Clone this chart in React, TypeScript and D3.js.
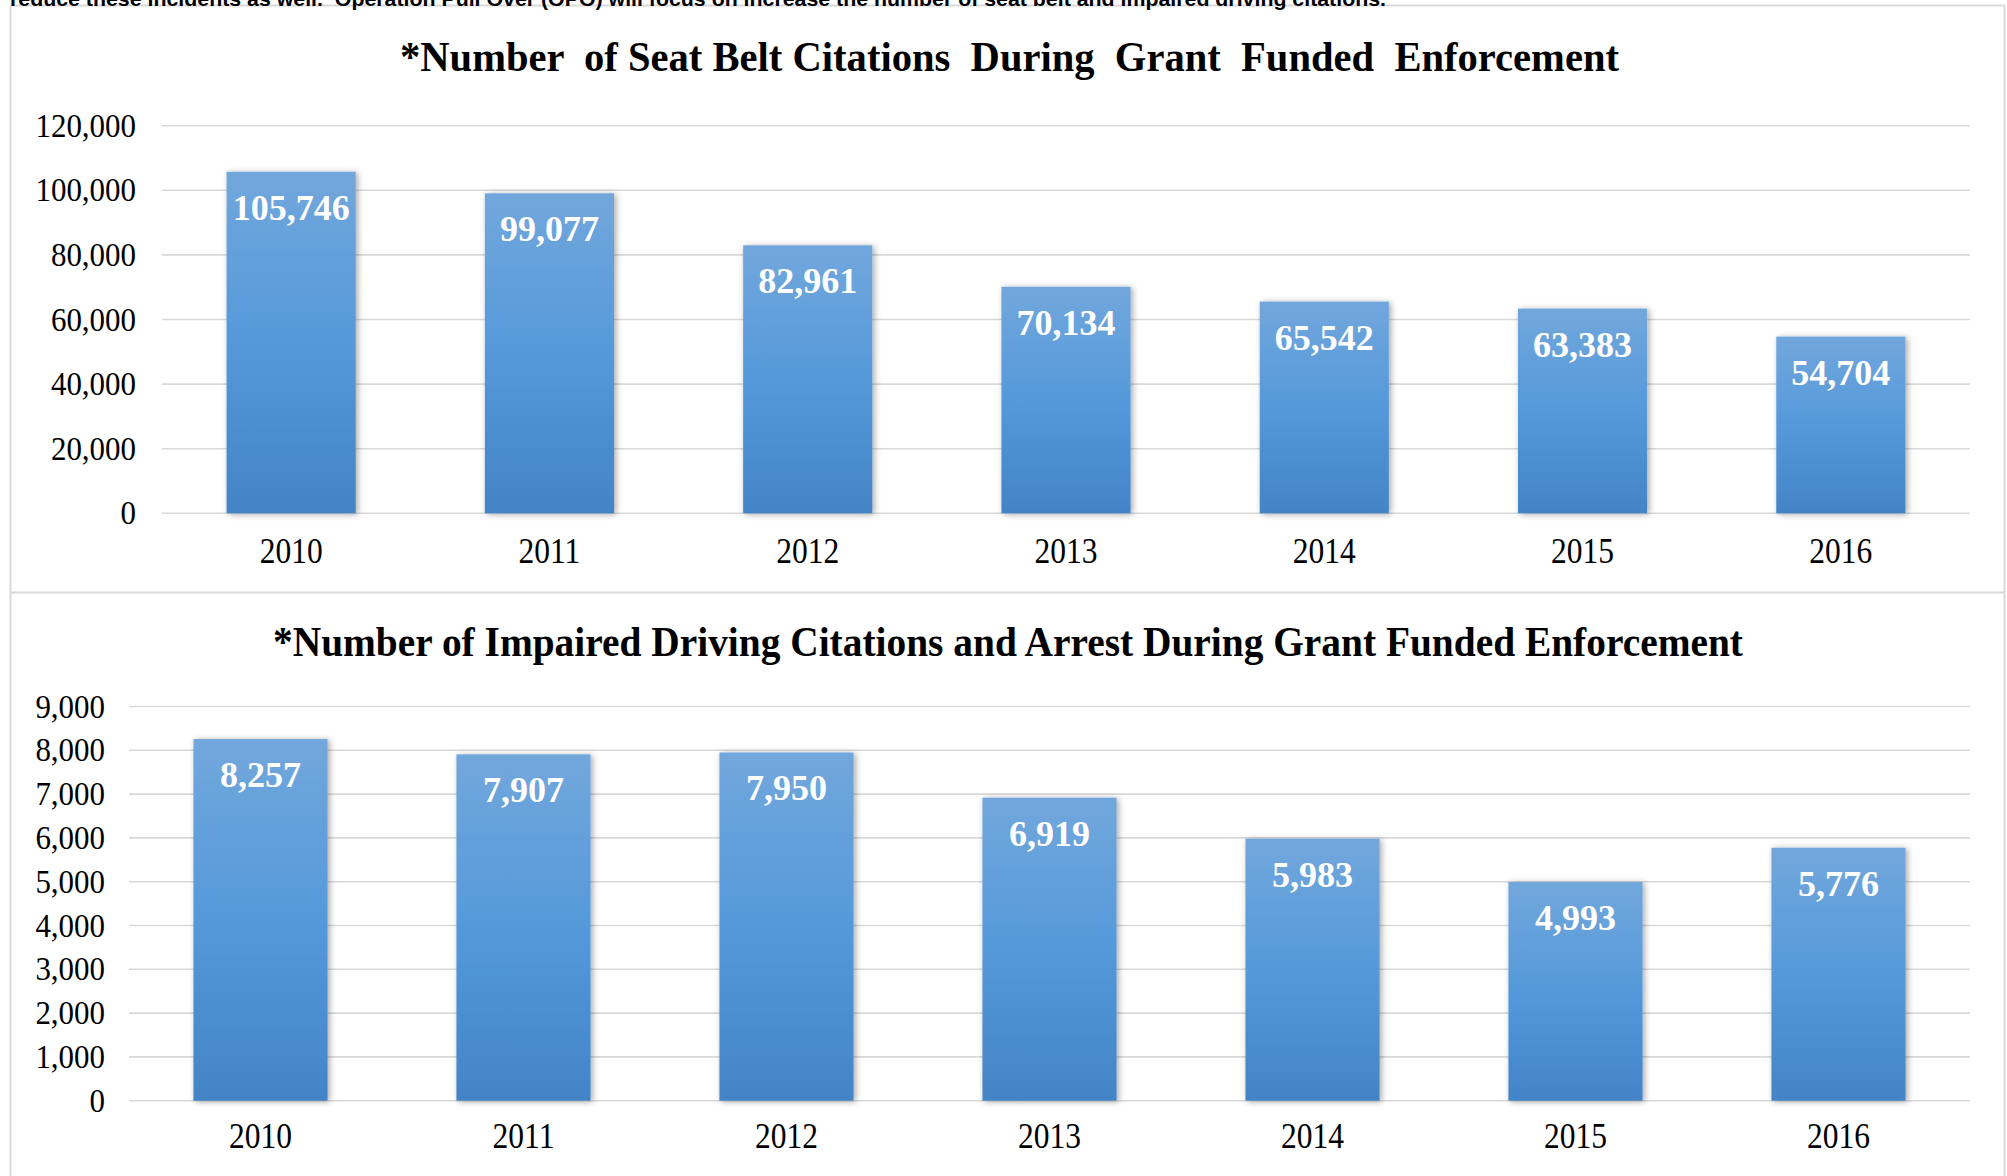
import React from "react";
import * as d3 from "d3";

const years = ["2010", "2011", "2012", "2013", "2014", "2015", "2016"];
const seatBelt = [105746, 99077, 82961, 70134, 65542, 63383, 54704];
const impaired = [8257, 7907, 7950, 6919, 5983, 4993, 5776];
const seatTicks = [0, 20000, 40000, 60000, 80000, 100000, 120000];
const impairedTicks = [0, 1000, 2000, 3000, 4000, 5000, 6000, 7000, 8000, 9000];
const title1 = "*Number  of Seat Belt Citations  During  Grant  Funded  Enforcement";
const title2 = "*Number of Impaired Driving Citations and Arrest During Grant Funded Enforcement";
const topLine =
  "reduce these incidents as well.  Operation Pull Over (OPO) will focus on increase the number of seat belt and impaired driving citations.";

const W = 2007;
const H = 1176;
const SERIF = "'Liberation Serif', 'Times New Roman', serif";
const fmt = d3.format(",");

function T({ x, y, sx = 0.91, anchor = "middle", size, weight = "normal", fill = "#000", children }: any) {
  return (
    <text
      transform={`translate(${x},${y}) scale(${sx},1)`}
      textAnchor={anchor}
      fontFamily={SERIF}
      fontSize={size}
      fontWeight={weight}
      fill={fill}
    >
      {children}
    </text>
  );
}

function Panel({ values, ticks, yMax, y0, y1, xL, xR, pInner, pOuter, title, titleY, titleX0, titleX1, yearY, tickRight }: any) {
  const x = d3.scaleBand<string>().domain(years).range([xL, xR]).paddingInner(pInner).paddingOuter(pOuter);
  const y = d3.scaleLinear().domain([0, yMax]).range([y0, y1]);
  return (
    <g>
      <text
        x={titleX0}
        y={titleY}
        textLength={titleX1 - titleX0}
        lengthAdjust="spacingAndGlyphs"
        fontFamily={SERIF}
        fontSize={42}
        fontWeight="bold"
        fill="#000"
        style={{ whiteSpace: "pre" }}
      >
        {title}
      </text>
      {ticks.map((t: number) => (
        <g key={t}>
          <line x1={xL} x2={xR} y1={y(t)} y2={y(t)} stroke="#d9d9d9" strokeWidth={1.6} />
          <T x={tickRight} y={y(t) + 11} anchor="end" size={34}>
            {fmt(t)}
          </T>
        </g>
      ))}
      {values.map((v: number, i: number) => {
        const bx = x(years[i])!;
        const bw = x.bandwidth();
        return (
          <g key={years[i]}>
            <rect x={bx} y={y(v)} width={bw} height={y0 - y(v)} fill="url(#barGrad)" filter="url(#shadow)" />
            <T x={bx + bw / 2} y={y(v) + 48} size={36} weight="bold" fill="#fff" sx={1.0}>
              {fmt(v)}
            </T>
          </g>
        );
      })}
      {years.map((yr) => (
        <T key={yr} x={x(yr)! + x.bandwidth() / 2} y={yearY} size={35} sx={0.9}>
          {yr}
        </T>
      ))}
    </g>
  );
}

export default function App() {
  return (
    <svg
      width={W}
      height={H}
      style={{ position: "absolute", left: 0, top: 0, display: "block", background: "#fff" }}
    >
      <defs>
        <linearGradient id="barGrad" x1="0" y1="0" x2="0" y2="1">
          <stop offset="0%" stopColor="#72a7dc" />
          <stop offset="50%" stopColor="#5599da" />
          <stop offset="100%" stopColor="#4384c6" />
        </linearGradient>
        <filter id="shadow" x="-20%" y="-10%" width="140%" height="120%">
          <feDropShadow dx="2" dy="1" stdDeviation="3" floodColor="#000" floodOpacity="0.35" />
        </filter>
      </defs>
      <rect x={0} y={0} width={W} height={H} fill="#fff" />
      <line x1={10} x2={2005} y1={5.5} y2={5.5} stroke="#d9d9d9" strokeWidth={2} />
      <line x1={10.5} x2={10.5} y1={5} y2={H} stroke="#d9d9d9" strokeWidth={2} />
      <line x1={2004.5} x2={2004.5} y1={5} y2={H} stroke="#d9d9d9" strokeWidth={2} />
      <line x1={10} x2={2005} y1={592.5} y2={592.5} stroke="#d9d9d9" strokeWidth={2} />
      <text
        x={10}
        y={6}
        textLength={1376}
        lengthAdjust="spacingAndGlyphs"
        fontFamily="'Liberation Sans', Arial, sans-serif"
        fontWeight="bold"
        fontSize={20}
        fill="#000"
        style={{ whiteSpace: "pre" }}
      >
        {topLine}
      </text>
      <Panel
        values={seatBelt}
        ticks={seatTicks}
        yMax={120000}
        y0={513.3}
        y1={125.7}
        xL={162}
        xR={1970}
        pInner={0.5}
        pOuter={0.25}
        title={title1}
        titleY={71}
        titleX0={400}
        titleX1={1619}
        yearY={563}
        tickRight={136}
      />
      <Panel
        values={impaired}
        ticks={impairedTicks}
        yMax={9000}
        y0={1100.7}
        y1={706.5}
        xL={129}
        xR={1970}
        pInner={0.49}
        pOuter={0.245}
        title={title2}
        titleY={656}
        titleX0={273}
        titleX1={1743}
        yearY={1148}
        tickRight={105}
      />
    </svg>
  );
}
